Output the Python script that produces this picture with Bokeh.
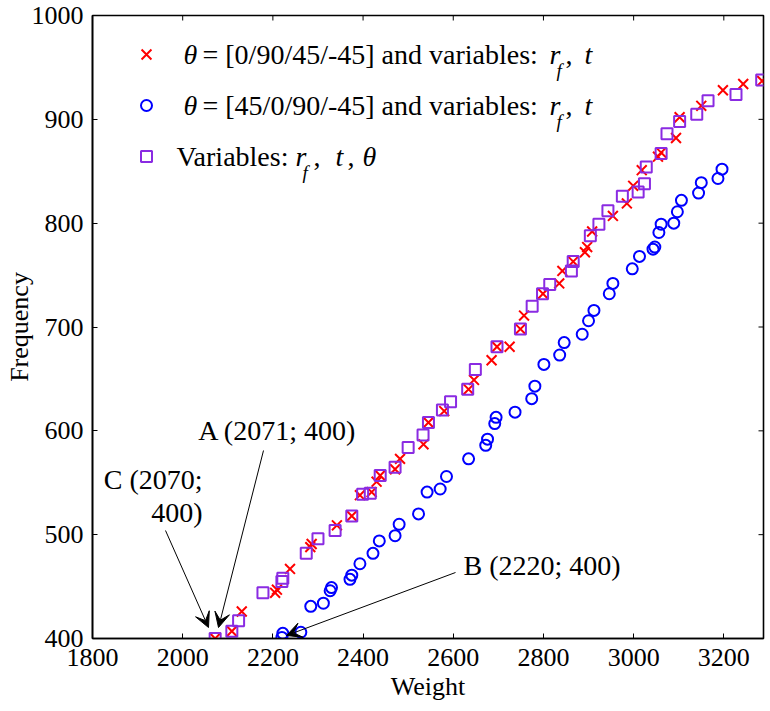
from bokeh.plotting import figure
from bokeh.models import Range1d, FixedTicker, Label, Arrow, VeeHead
from bokeh.embed import file_html
from bokeh.resources import INLINE

# ---------------- data ----------------
red_weight = [2072, 2109, 2131, 2205, 2209, 2238, 2283, 2286, 2342, 2375, 2393, 2419,
              2430, 2438, 2471, 2482, 2534, 2545, 2580, 2634, 2646, 2685, 2697, 2725,
              2749, 2757, 2799, 2835, 2842, 2866, 2892, 2897, 2908, 2954, 2985, 2999,
              3018, 3054, 3061, 3094, 3102, 3150, 3198, 3243, 3285]
red_freq = [400, 407, 426, 444, 447, 467, 488, 491, 509, 518, 538, 541,
            551, 557, 563, 573, 587, 608, 619, 640, 649, 668, 681, 681,
            698, 711, 732, 742, 754, 763, 772, 777, 792, 807, 819, 836,
            851, 864, 868, 882, 902, 913, 928, 934, 937]

blue_weight = [2220, 2222, 2262, 2284, 2312, 2327, 2330, 2371, 2375, 2393, 2422, 2436,
               2471, 2480, 2523, 2542, 2571, 2585, 2634, 2672, 2676, 2692, 2695, 2737,
               2774, 2781, 2801, 2836, 2846, 2886, 2900, 2912, 2946, 2954, 2997, 3013,
               3043, 3047, 3056, 3061, 3089, 3097, 3106, 3144, 3150, 3187, 3196]
blue_freq = [401, 405, 406, 431, 434, 446, 449, 457, 461, 472, 482, 494,
             499, 510, 520, 541, 544, 556, 573, 586, 592, 607, 613, 618,
             631, 643, 664, 673, 685, 693, 706, 716, 732, 742, 756, 768,
             775, 777, 791, 799, 800, 811, 822, 829, 839, 843, 852]

purple_weight = [2072, 2109, 2124, 2178, 2220, 2222, 2274, 2300, 2338, 2375, 2399, 2416,
                 2438, 2471, 2500, 2533, 2545, 2576, 2594, 2632, 2649, 2697, 2749, 2775,
                 2798, 2814, 2862, 2866, 2904, 2923, 2943, 2975, 3010, 3024, 3028, 3061,
                 3074, 3102, 3140, 3165, 3227, 3284]
purple_freq = [400, 407, 417, 444, 455, 458, 482, 496, 504, 518, 539, 540,
               557, 565, 584, 596, 608, 620, 628, 640, 659, 681, 698, 720,
               732, 741, 754, 763, 788, 799, 812, 826, 830, 838, 854, 867,
               886, 898, 905, 918, 924, 938]

x_ticks = [1800, 2000, 2200, 2400, 2600, 2800, 3000, 3200]
y_ticks = [400, 500, 600, 700, 800, 900, 1000]

annot_A = "A (2071; 400)"
annot_B = "B (2220; 400)"
annot_C = ["C (2070;", "400)"]

# ---------------- layout ----------------
X0, X1, Y0, Y1 = 1800, 3288, 400, 1000
W, H = 770, 711
L, R, T, B = 92, 7, 15, 73
FW = W - L - R
FH = H - T - B
FONT = "Liberation Serif"


def dx(px):
    return X0 + (px - L) * (X1 - X0) / FW


def dy(py):
    return Y0 + (H - B - py) * (Y1 - Y0) / FH


PXX = (X1 - X0) / FW   # data units per pixel (x)
PXY = (Y1 - Y0) / FH   # data units per pixel (y)

p = figure(width=W, height=H, x_range=Range1d(X0, X1), y_range=Range1d(Y0, Y1),
           output_backend="svg", toolbar_location=None,
           min_border_left=L, min_border_right=R, min_border_top=T, min_border_bottom=B,
           x_axis_label="Weight", y_axis_label="Frequency")
p.grid.visible = False
p.outline_line_color = "black"
p.outline_line_width = 1.6
p.background_fill_color = "white"
p.border_fill_color = "white"

for ax, tk in ((p.xaxis[0], x_ticks), (p.yaxis[0], y_ticks)):
    ax.ticker = FixedTicker(ticks=tk)
    ax.major_tick_in = 5
    ax.major_tick_out = 0
    ax.minor_tick_line_color = None
    ax.axis_line_width = 1.6
    ax.major_tick_line_width = 1
    ax.major_label_text_font = FONT
    ax.major_label_text_font_size = "26px"
    ax.major_label_text_color = "black"
    ax.axis_label_text_font = FONT
    ax.axis_label_text_font_size = "26px"
    ax.axis_label_text_font_style = "normal"
    ax.axis_label_text_color = "black"
p.xaxis[0].major_label_standoff = 10
p.xaxis[0].axis_label_standoff = 3
p.yaxis[0].major_label_standoff = 9
p.yaxis[0].axis_label_standoff = -5

# inward ticks on the top and right edges of the box
p.segment(x0=x_ticks, y0=[Y1] * len(x_ticks), x1=x_ticks, y1=[Y1 - 5 * PXY] * len(x_ticks),
          line_color="black", line_width=1)
p.segment(x0=[X1] * len(y_ticks), y0=y_ticks, x1=[X1 - 5 * PXX] * len(y_ticks), y1=y_ticks,
          line_color="black", line_width=1)

RED = "#FF0000"
BLUE = "#0000FF"
PURPLE = "#8A2BE2"

p.scatter(red_weight, red_freq, marker="x", size=14, line_color=RED, line_width=2)
p.scatter(blue_weight, blue_freq, marker="circle", size=11, line_color=BLUE,
          fill_color=None, line_width=2)
p.scatter(purple_weight, purple_freq, marker="square", size=11, line_color=PURPLE,
          fill_color=None, line_width=2)

# ---------------- legend (manual, to allow subscripts) ----------------
LFS = "28px"
SFS = "19px"


def lab(px, py, text, style="normal", size=LFS, align="left"):
    p.add_layout(Label(x=dx(px), y=dy(py), text=text, text_font=FONT,
                       text_font_size=size, text_font_style=style,
                       text_baseline="middle", text_align=align,
                       text_color="black"))


rows = [54, 105, 156]
mx = 146
p.scatter([dx(mx)], [dy(rows[0])], marker="x", size=14, line_color=RED, line_width=2)
p.scatter([dx(mx)], [dy(rows[1])], marker="circle", size=11, line_color=BLUE,
          fill_color=None, line_width=2)
p.scatter([dx(mx)], [dy(rows[2])], marker="square", size=11, line_color=PURPLE,
          fill_color=None, line_width=2)

for row, txt in ((rows[0], "= [0/90/45/-45] and variables:"),
                 (rows[1], "= [45/0/90/-45] and variables:")):
    lab(183, row, "\u03b8", "italic")
    lab(202, row, txt)
    lab(549, row, "r", "italic")
    lab(556, row + 16, "f", "italic", SFS)
    lab(565, row, ",")
    lab(584, row, "t", "italic")

r3 = rows[2]
lab(176, r3, "Variables:")
lab(295, r3, "r", "italic")
lab(302, r3 + 16, "f", "italic", SFS)
lab(313, r3, ",")
lab(335, r3, "t", "italic")
lab(347, r3, ",")
lab(362, r3, "\u03b8", "italic")

# ---------------- annotations ----------------
def head():
    return VeeHead(size=15, fill_color="black", line_color="black", line_width=1)


# A
p.add_layout(Arrow(end=head(), x_start=dx(263), y_start=dy(450),
                   x_end=dx(218), y_end=dy(627), line_width=1, line_color="black"))
lab(277, 430, annot_A, align="center")
# C
p.add_layout(Arrow(end=head(), x_start=dx(165), y_start=dy(530),
                   x_end=dx(208), y_end=dy(627), line_width=1, line_color="black"))
lab(202, 479, annot_C[0], align="right")
lab(202, 512, annot_C[1], align="right")
# B
p.add_layout(Arrow(end=head(), x_start=dx(455), y_start=dy(572),
                   x_end=dx(286), y_end=dy(635), line_width=1, line_color="black"))
lab(463, 565, annot_B)

open("out.html", "w").write(file_html(p, INLINE))
